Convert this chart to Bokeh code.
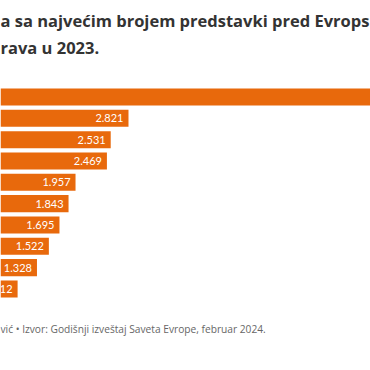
from bokeh.plotting import figure
from bokeh.models import ColumnDataSource, Range1d, Label
from bokeh.core.properties import value
from bokeh.embed import file_html
from bokeh.resources import INLINE

# Data (number of applications; first bar extends beyond the visible area)
values = [14230, 2821, 2531, 2469, 1957, 1843, 1695, 1522, 1328, 1012]
ranks = list(range(len(values)))
value_labels = [f"{v:,}".replace(",", ".") for v in values]

title_line1 = "a sa najvećim brojem predstavki pred Evrops"
title_line2 = "rava u 2023."
footer_text = "vić • Izvor: Godišnji izveštaj Saveta Evrope, februar 2024."

BAR = "#E8690C"

W, H = 370, 370
pitch = 21.33
y_top = 96.5 / pitch
y_bottom = y_top - H / pitch
px_per_unit = 0.0613
x_start = 733
x_end = x_start + W / px_per_unit

src = ColumnDataSource(dict(y=[-r for r in ranks], v=values))
lab_src = ColumnDataSource(dict(y=[-r for r in ranks[1:]], v=values[1:],
                                lab=value_labels[1:]))

p = figure(width=W, height=H, output_backend="svg", toolbar_location=None,
           x_range=Range1d(x_start, x_end), y_range=Range1d(y_bottom, y_top),
           min_border=0, outline_line_color=None, background_fill_color="white",
           border_fill_color="white")
p.axis.visible = False
p.grid.visible = False

p.hbar(y="y", left=0, right="v", height=0.8, source=src,
       fill_color=BAR, line_color=None)
p.text(x="v", y="y", text="lab", source=lab_src, x_offset=-5,
       text_align="right", text_baseline="middle",
       text_color="white", text_font_size="11px", text_font=value("Lato"))

for txt, yy in [(title_line1, 19.5), (title_line2, 46.7)]:
    p.add_layout(Label(x=0, y=H - yy, x_units="screen", y_units="screen",
                       text=txt, text_font="Open Sans", text_font_style="bold",
                       text_font_size="16.5px", text_color="#333333",
                       text_baseline="alphabetic"))

p.add_layout(Label(x=0, y=H - 328.5, x_units="screen", y_units="screen",
                   text=footer_text, text_font="Open Sans", text_font_size="10.2px",
                   text_color="#666666", text_baseline="alphabetic"))

open("out.html", "w").write(file_html(p, INLINE))
